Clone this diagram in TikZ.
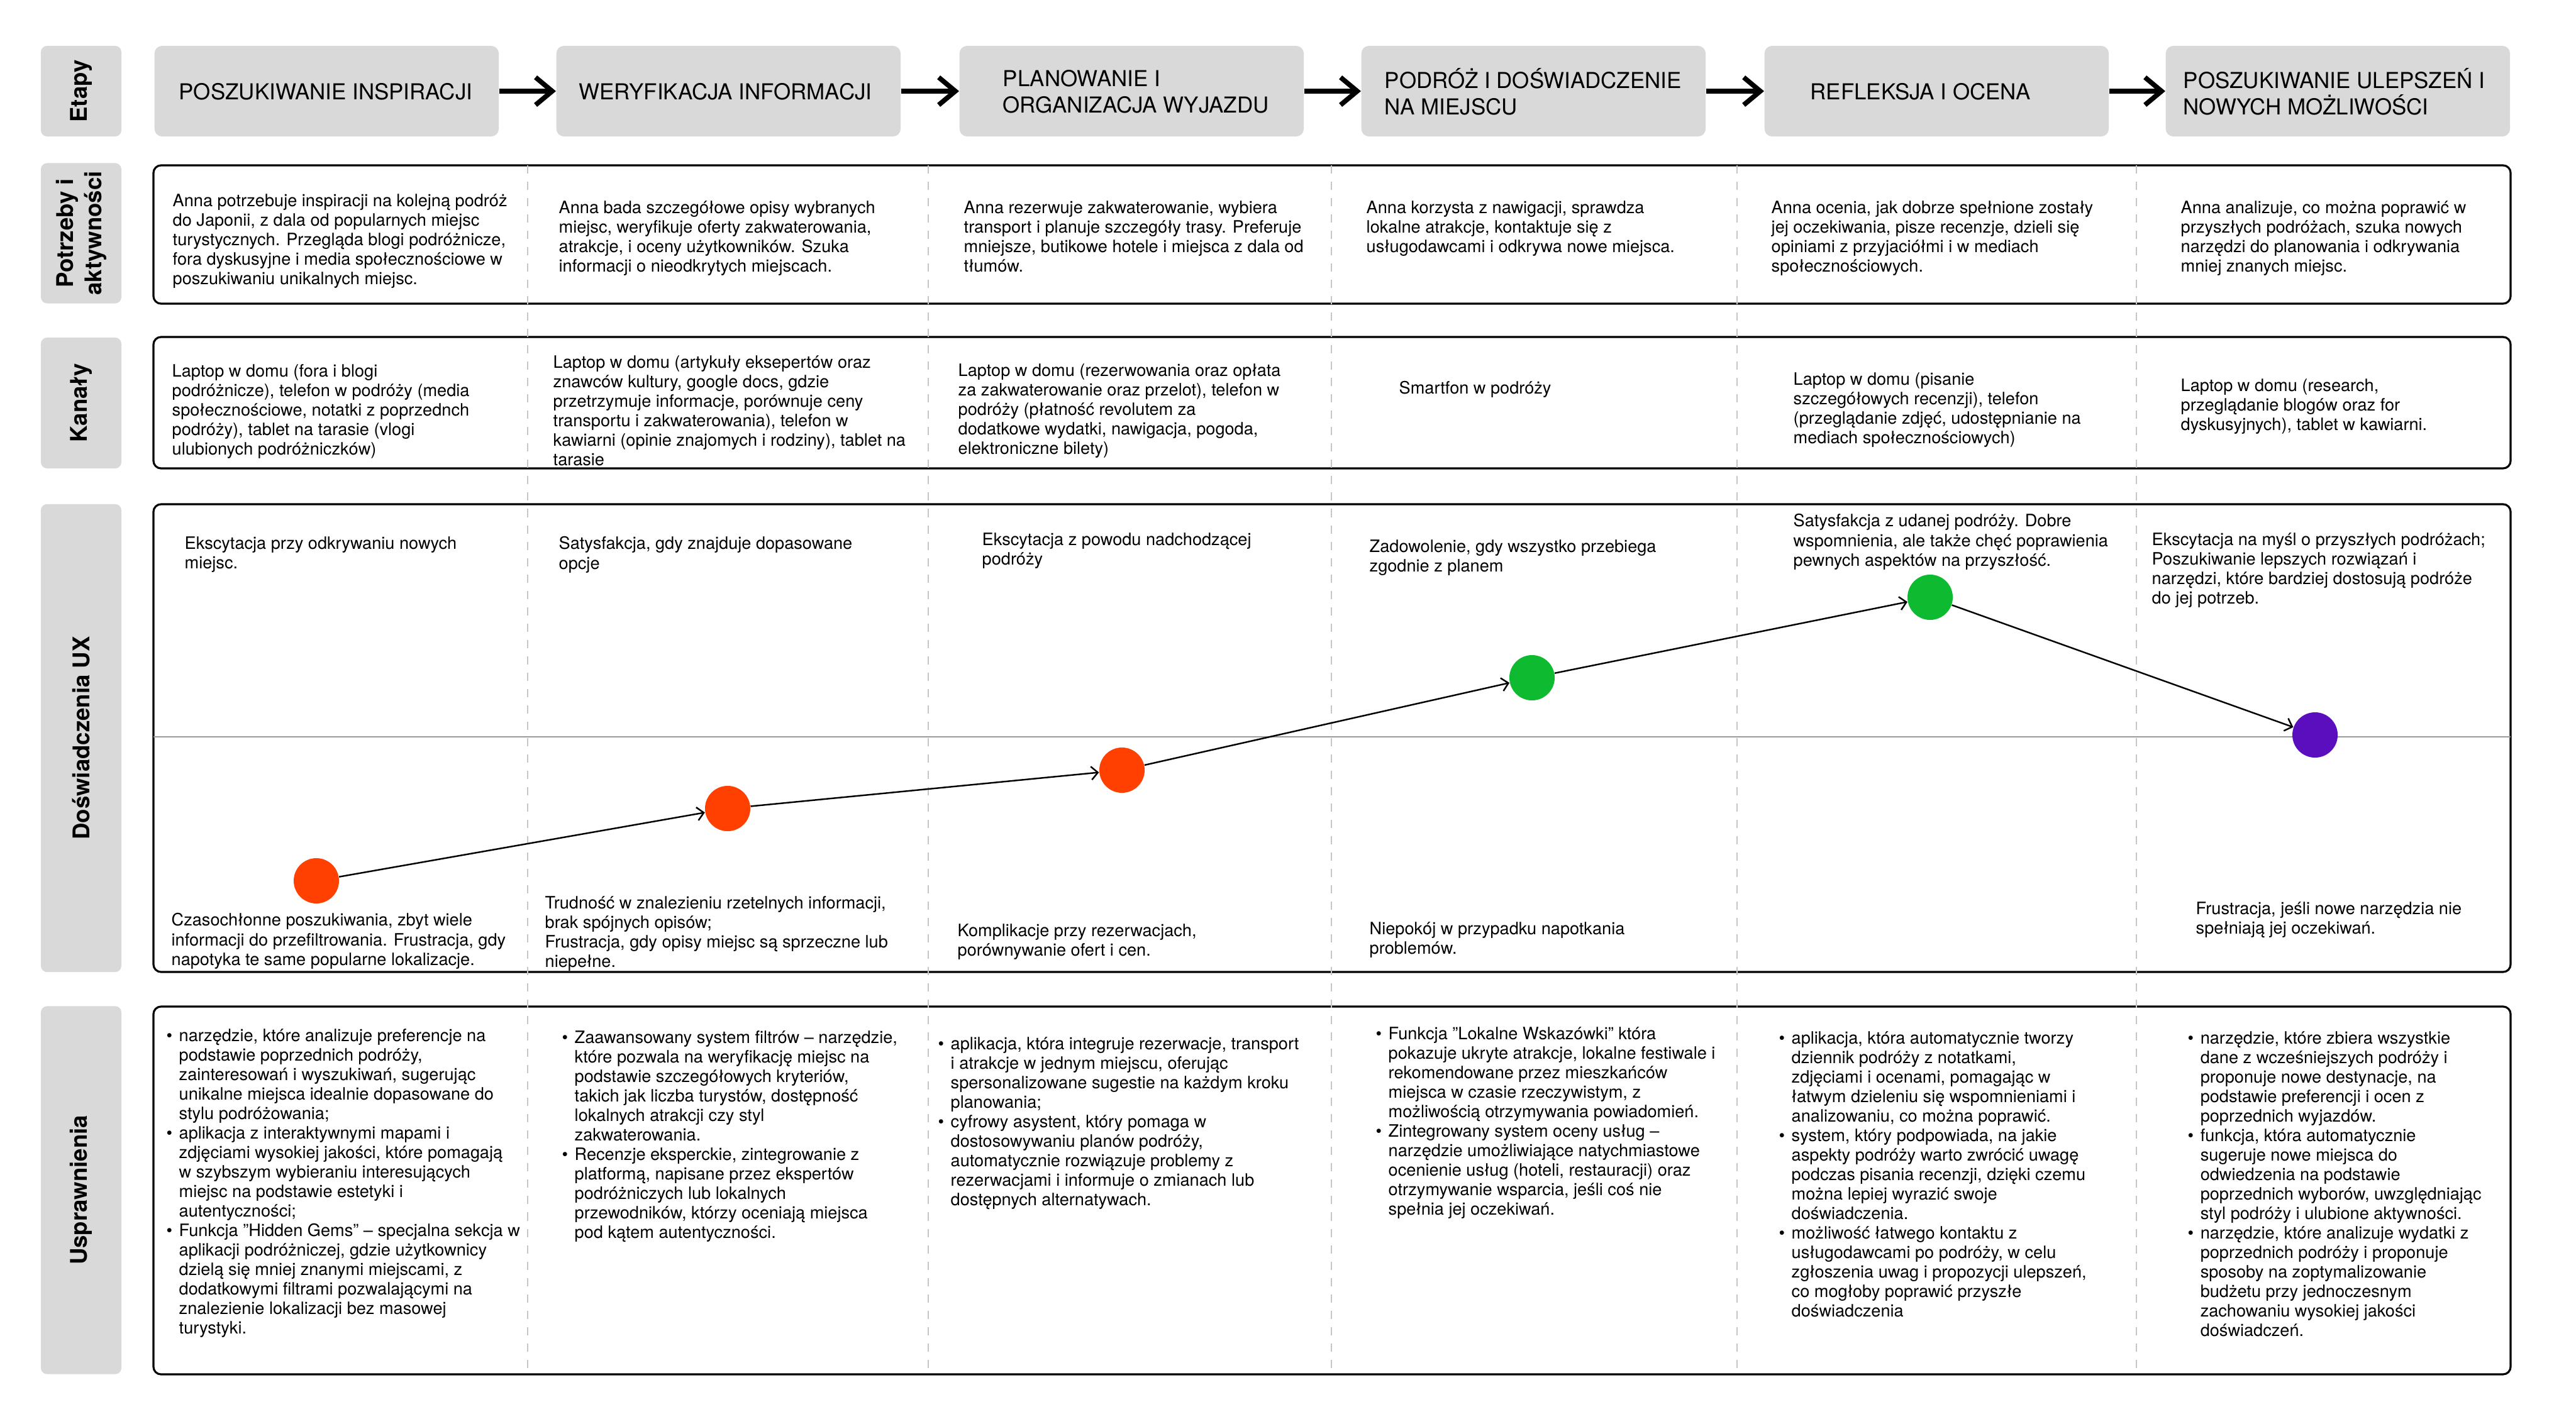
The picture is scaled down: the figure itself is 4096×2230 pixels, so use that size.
\documentclass[tikz,border=0pt]{standalone}
\usepackage{fontspec}
\setmainfont{TeX Gyre Heros}
\usetikzlibrary{arrows.meta}
\definecolor{panelGray}{HTML}{D9D9D9}
\definecolor{guideGray}{HTML}{C6C6C6}
\definecolor{axisGray}{HTML}{9A9A9A}
\definecolor{moodLow}{HTML}{FF4000}
\definecolor{moodHigh}{HTML}{0EBB30}
\definecolor{moodNext}{HTML}{5A0EBE}
\newcommand{\bodyfont}{\fontsize{7.72pt}{8.82pt}\selectfont}
\newcommand{\headfont}{\fontsize{9.93pt}{12pt}\selectfont}
\newcommand{\labelfont}{\fontsize{10.4pt}{12.8pt}\selectfont\bfseries}
\newcommand{\ptdot}{\makebox[0.2cm][l]{\textbullet}}
\newcommand{\ptgap}{\hspace*{0.2cm}}

\begin{document}
\begin{tikzpicture}[
  x=0.01cm, y=-0.01cm,
  rowlabel/.style={rectangle, rounded corners=0.1cm, fill=panelGray, rotate=90,
    font=\labelfont, align=center, inner sep=0, minimum height=1.28cm},
  stagebox/.style={rectangle, rounded corners=0.12cm, fill=panelGray,
    minimum width=5.47cm, minimum height=1.44cm, inner sep=0, anchor=west},
  stagetext/.style={font=\headfont, align=left, anchor=west, inner sep=0},
  stagearrow/.style={line width=2.2pt, -{Straight Barb[length=7.5pt,width=12.5pt]}},
  rowframe/.style={line width=0.9pt, rounded corners=0.12cm},
  guide/.style={guideGray, line width=0.4pt, dash pattern=on 3.7pt off 3.7pt},
  midaxis/.style={axisGray, line width=0.7pt},
  cardtext/.style={font=\bodyfont, align=left, anchor=north west, inner sep=0},
  uxdot/.style={circle, minimum size=0.72cm, inner sep=0},
  uxarrow/.style={line width=0.7pt, -{Straight Barb[length=3pt,width=6pt]}}
]
  %% --- tlo i ramka obrazka (jednostka: piksel wzorca) ---
  \fill[white] (0,0) rectangle (4096,2230);
  \useasboundingbox (0,0) rectangle (4096,2230);

  %% --- etykiety wierszy ---
  \node[rowlabel, minimum width=1.44cm] (lab-etapy) at (129,145) {Etapy};
  \node[rowlabel, minimum width=2.23cm] (lab-needs) at (129,371) {Potrzeby i\\aktywności};
  \node[rowlabel, minimum width=2.08cm] (lab-chan) at (129,641) {Kanały};
  \node[rowlabel, minimum width=7.44cm] (lab-ux) at (129,1174) {Doświadczenia UX};
  \node[rowlabel, minimum width=5.85cm] (lab-impr) at (129,1893) {Usprawnienia};

  %% --- etapy podrozy ---
  %% makro zamiast \foreach: tytuly zawieraja \\
  \newcommand{\stagecell}[4]{%
    \node[stagebox] (stage-#1) at (#2,145) {};
    \node[stagetext] (stagetxt-#1) at (#3,146) {#4};
  }
  \stagecell{1}{245}{284}{POSZUKIWANIE INSPIRACJI}
  \stagecell{2}{884}{920}{WERYFIKACJA INFORMACJI}
  \stagecell{3}{1525}{1594}{PLANOWANIE I\\ORGANIZACJA WYJAZDU}
  \stagecell{4}{2164}{2201}{PODRÓŻ I DOŚWIADCZENIE\\NA MIEJSCU}
  \stagecell{5}{2805}{2878}{REFLEKSJA I OCENA}
  \stagecell{6}{3443}{3471}{POSZUKIWANIE ULEPSZEŃ I\\NOWYCH MOŻLIWOŚCI}
  \foreach \a/\b in {1/2, 2/3, 3/4, 4/5, 5/6} {
    \draw[stagearrow] (stage-\a) -- (stage-\b);
  }

  %% --- ramki wierszy i przerywane podzialy kolumn ---
  \foreach \ytop/\ybot in {263/483, 536/745, 802/1546, 1601/2186} {
    \draw[rowframe] (244,\ytop) rectangle (3992,\ybot);
  }
  \foreach \gx in {839, 1476, 2117, 2762, 3397} {
    \draw[guide] (\gx,263) -- (\gx,2186);
  }
  \draw[midaxis] (244,1172) -- (3992,1172);

  %% --- potrzeby i aktywnosci ---
  \node[cardtext] (need-1) at (274,308) {Anna potrzebuje inspiracji na kolejną podróż\\do Japonii, z dala od popularnych miejsc\\turystycznych. Przegląda blogi podróżnicze,\\fora dyskusyjne i media społecznościowe w\\poszukiwaniu unikalnych miejsc.};
  \node[cardtext] (need-2) at (888,319) {Anna bada szczegółowe opisy wybranych\\miejsc, weryfikuje oferty zakwaterowania,\\atrakcje, i oceny użytkowników. Szuka\\informacji o nieodkrytych miejscach.};
  \node[cardtext] (need-3) at (1532,319) {Anna rezerwuje zakwaterowanie, wybiera\\transport i planuje szczegóły trasy. Preferuje\\mniejsze, butikowe hotele i miejsca z dala od\\tłumów.};
  \node[cardtext] (need-4) at (2172,319) {Anna korzysta z nawigacji, sprawdza\\lokalne atrakcje, kontaktuje się z\\usługodawcami i odkrywa nowe miejsca.};
  \node[cardtext] (need-5) at (2816,319) {Anna ocenia, jak dobrze spełnione zostały\\jej oczekiwania, pisze recenzje, dzieli się\\opiniami z przyjaciółmi i w mediach\\społecznościowych.};
  \node[cardtext] (need-6) at (3467,319) {Anna analizuje, co można poprawić w\\przyszłych podróżach, szuka nowych\\narzędzi do planowania i odkrywania\\mniej znanych miejsc.};

  %% --- kanaly ---
  \node[cardtext] (chan-1) at (273,579) {Laptop w domu (fora i blogi\\podróżnicze), telefon w podróży (media\\społecznościowe, notatki z poprzednch\\podróży), tablet na tarasie (vlogi\\ulubionych podróżniczków)};
  \node[cardtext] (chan-2) at (879,565) {Laptop w domu (artykuły eksepertów oraz\\znawców kultury, google docs, gdzie\\przetrzymuje informacje, porównuje ceny\\transportu i zakwaterowania), telefon w\\kawiarni (opinie znajomych i rodziny), tablet na\\tarasie};
  \node[cardtext] (chan-3) at (1523,578) {Laptop w domu (rezerwowania oraz opłata\\za zakwaterowanie oraz przelot), telefon w\\podróży (płatność revolutem za\\dodatkowe wydatki, nawigacja, pogoda,\\elektroniczne bilety)};
  \node[cardtext] (chan-4) at (2224,606) {Smartfon w podróży};
  \node[cardtext] (chan-5) at (2851,592) {Laptop w domu (pisanie\\szczegółowych recenzji), telefon\\(przeglądanie zdjęć, udostępnianie na\\mediach społecznościowych)};
  \node[cardtext] (chan-6) at (3467,602) {Laptop w domu (research,\\przeglądanie blogów oraz for\\dyskusyjnych), tablet w kawiarni.};

  %% --- doswiadczenia UX: opisy nad i pod osia ---
  \node[cardtext] (uxhi-1) at (293,853) {Ekscytacja przy odkrywaniu nowych\\miejsc.};
  \node[cardtext] (uxhi-2) at (888,853) {Satysfakcja, gdy znajduje dopasowane\\opcje};
  \node[cardtext] (uxhi-3) at (1561,847) {Ekscytacja z powodu nadchodzącej\\podróży};
  \node[cardtext] (uxhi-4) at (2177,858) {Zadowolenie, gdy wszystko przebiega\\zgodnie z planem};
  \node[cardtext] (uxhi-5) at (2851,817) {Satysfakcja z udanej podróży. Dobre\\wspomnienia, ale także chęć poprawienia\\pewnych aspektów na przyszłość.};
  \node[cardtext] (uxhi-6) at (3421,847) {Ekscytacja na myśl o przyszłych podróżach;\\Poszukiwanie lepszych rozwiązań i\\narzędzi, które bardziej dostosują podróże\\do jej potrzeb.};
  \node[cardtext] (uxlo-1) at (272,1452) {Czasochłonne poszukiwania, zbyt wiele\\informacji do przefiltrowania. Frustracja, gdy\\napotyka te same popularne lokalizacje.};
  \node[cardtext] (uxlo-2) at (866,1425) {Trudność w znalezieniu rzetelnych informacji,\\brak spójnych opisów;\\Frustracja, gdy opisy miejsc są sprzeczne lub\\niepełne.};
  \node[cardtext] (uxlo-3) at (1522,1469) {Komplikacje przy rezerwacjach,\\porównywanie ofert i cen.};
  \node[cardtext] (uxlo-4) at (2177,1466) {Niepokój w przypadku napotkania\\problemów.};
  \node[cardtext] (uxlo-6) at (3491,1434) {Frustracja, jeśli nowe narzędzia nie\\spełniają jej oczekiwań.};

  %% --- krzywa nastroju ---
  \foreach \i/\cx/\cy/\col in {1/503/1401/moodLow, 2/1157/1286/moodLow,
    3/1784/1225/moodLow, 4/2436/1078/moodHigh, 5/3069/950/moodHigh,
    6/3681/1169/moodNext} {
    \node[uxdot, fill=\col] (dot-\i) at (\cx,\cy) {};
  }
  \foreach \a/\b in {1/2, 2/3, 3/4, 4/5, 5/6} {
    \draw[uxarrow] (dot-\a) -- (dot-\b);
  }

  %% --- usprawnienia (listy punktowane) ---
  \node[cardtext] (impr-1) at (264,1636) {\ptdot narzędzie, które analizuje preferencje na\\\ptgap podstawie poprzednich podróży,\\\ptgap zainteresowań i wyszukiwań, sugerując\\\ptgap unikalne miejsca idealnie dopasowane do\\\ptgap stylu podróżowania;\\\ptdot aplikacja z interaktywnymi mapami i\\\ptgap zdjęciami wysokiej jakości, które pomagają\\\ptgap w szybszym wybieraniu interesujących\\\ptgap miejsc na podstawie estetyki i\\\ptgap autentyczności;\\\ptdot Funkcja "Hidden Gems" – specjalna sekcja w\\\ptgap aplikacji podróżniczej, gdzie użytkownicy\\\ptgap dzielą się mniej znanymi miejscami, z\\\ptgap dodatkowymi filtrami pozwalającymi na\\\ptgap znalezienie lokalizacji bez masowej\\\ptgap turystyki.};
  \node[cardtext] (impr-2) at (893,1639) {\ptdot Zaawansowany system filtrów – narzędzie,\\\ptgap które pozwala na weryfikację miejsc na\\\ptgap podstawie szczegółowych kryteriów,\\\ptgap takich jak liczba turystów, dostępność\\\ptgap lokalnych atrakcji czy styl\\\ptgap zakwaterowania.\\\ptdot Recenzje eksperckie, zintegrowanie z\\\ptgap platformą, napisane przez ekspertów\\\ptgap podróżniczych lub lokalnych\\\ptgap przewodników, którzy oceniają miejsca\\\ptgap pod kątem autentyczności.};
  \node[cardtext] (impr-3) at (1491,1649) {\ptdot aplikacja, która integruje rezerwacje, transport\\\ptgap i atrakcje w jednym miejscu, oferując\\\ptgap spersonalizowane sugestie na każdym kroku\\\ptgap planowania;\\\ptdot cyfrowy asystent, który pomaga w\\\ptgap dostosowywaniu planów podróży,\\\ptgap automatycznie rozwiązuje problemy z\\\ptgap rezerwacjami i informuje o zmianach lub\\\ptgap dostępnych alternatywach.};
  \node[cardtext] (impr-4) at (2187,1633) {\ptdot Funkcja "Lokalne Wskazówki" która\\\ptgap pokazuje ukryte atrakcje, lokalne festiwale i\\\ptgap rekomendowane przez mieszkańców\\\ptgap miejsca w czasie rzeczywistym, z\\\ptgap możliwością otrzymywania powiadomień.\\\ptdot Zintegrowany system oceny usług –\\\ptgap narzędzie umożliwiające natychmiastowe\\\ptgap ocenienie usług (hoteli, restauracji) oraz\\\ptgap otrzymywanie wsparcia, jeśli coś nie\\\ptgap spełnia jej oczekiwań.};
  \node[cardtext] (impr-5) at (2828,1640) {\ptdot aplikacja, która automatycznie tworzy\\\ptgap dziennik podróży z notatkami,\\\ptgap zdjęciami i ocenami, pomagając w\\\ptgap łatwym dzieleniu się wspomnieniami i\\\ptgap analizowaniu, co można poprawić.\\\ptdot system, który podpowiada, na jakie\\\ptgap aspekty podróży warto zwrócić uwagę\\\ptgap podczas pisania recenzji, dzięki czemu\\\ptgap można lepiej wyrazić swoje\\\ptgap doświadczenia.\\\ptdot możliwość łatwego kontaktu z\\\ptgap usługodawcami po podróży, w celu\\\ptgap zgłoszenia uwag i propozycji ulepszeń,\\\ptgap co mogłoby poprawić przyszłe\\\ptgap doświadczenia};
  \node[cardtext] (impr-6) at (3478,1640) {\ptdot narzędzie, które zbiera wszystkie\\\ptgap dane z wcześniejszych podróży i\\\ptgap proponuje nowe destynacje, na\\\ptgap podstawie preferencji i ocen z\\\ptgap poprzednich wyjazdów.\\\ptdot funkcja, która automatycznie\\\ptgap sugeruje nowe miejsca do\\\ptgap odwiedzenia na podstawie\\\ptgap poprzednich wyborów, uwzględniając\\\ptgap styl podróży i ulubione aktywności.\\\ptdot narzędzie, które analizuje wydatki z\\\ptgap poprzednich podróży i proponuje\\\ptgap sposoby na zoptymalizowanie\\\ptgap budżetu przy jednoczesnym\\\ptgap zachowaniu wysokiej jakości\\\ptgap doświadczeń.};
\end{tikzpicture}
\end{document}
